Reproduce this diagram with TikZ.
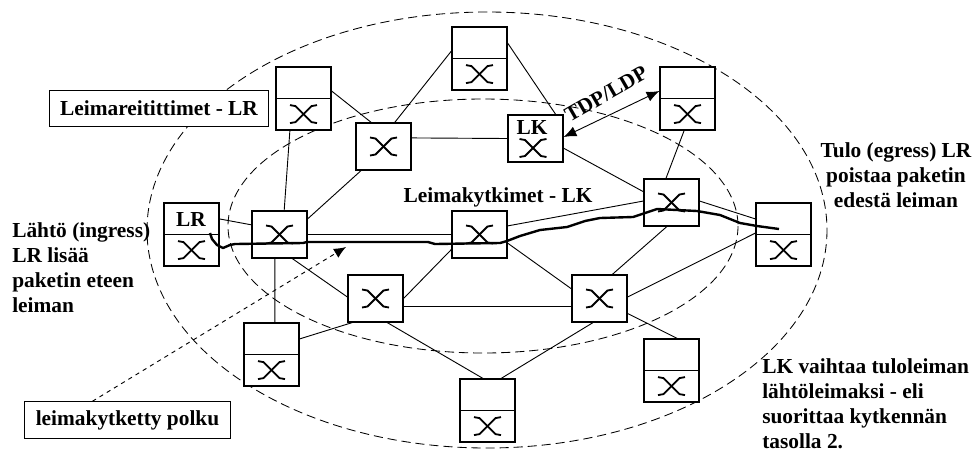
\documentclass[tikz,border=0pt]{standalone}
\usepackage{fontspec}
\setmainfont{Liberation Serif}
\usetikzlibrary{arrows.meta,positioning,calc}
\tikzset{
  swx/.pic={
    \draw[line width=1.3pt] (-13.5,-9) -- (-8,-8) -- (8,8) -- (13.5,9);
    \draw[line width=1.3pt] (-13.5,9) -- (-8,8) -- (8,-8) -- (13.5,-9);
  },
  boxline/.style={draw,fill=white,line width=0.8pt,inner sep=0pt},
  routerbox/.style={boxline,minimum width=1.375cm,minimum height=1.575cm,
    path picture={
      \draw[line width=1pt] (path picture bounding box.west) -- (path picture bounding box.east);
      \draw ([yshift=-0.39cm]path picture bounding box.center) pic {swx};
    }},
  switchbox/.style={boxline,minimum width=1.375cm,minimum height=1.175cm},
  switchmark/.style={path picture={\draw (path picture bounding box.center) pic {swx};}},
  labelbox/.style={draw,fill=white,line width=0.7pt,inner sep=0pt,font=\bfseries\fontsize{15.2}{17.7}\selectfont},
  note/.style={font=\bfseries\fontsize{15.2}{17.7}\selectfont,inner sep=0pt},
  link/.style={line width=0.65pt},
  area/.style={line width=0.6pt,dash pattern=on 6.5pt off 3.5pt}
}
\begin{document}
\begin{tikzpicture}[x=0.025cm,y=-0.025cm]
\useasboundingbox (0,0) rectangle (974,450);

% areas
\draw[area] (487,230) ellipse [x radius=340,y radius=218];
\draw[area] (483,226) ellipse [x radius=255,y radius=127];

% edge routers
\draw (303.5,98.5) node[routerbox] (r1) {};
\draw (479.5,58.5) node[routerbox] (r2) {};
\draw (687.5,98.5) node[routerbox] (r3) {};
\draw (191.5,234.5) node[routerbox] (r4) {};
\draw (783.5,234.5) node[routerbox] (r5) {};
\draw (271.5,354.5) node[routerbox] (r6) {};
\draw (487.5,410.5) node[routerbox] (r7) {};
\draw (671.5,370.5) node[routerbox] (r8) {};

% switches
\draw (383.5,146.5) node[switchbox,switchmark] (s1) {};
\draw (535.5,138.5) node[switchbox] (s2) {};
\draw (279.5,234.5) node[switchbox,switchmark] (s3) {};
\draw (479.5,234.5) node[switchbox,switchmark] (s4) {};
\draw (671.5,202.5) node[switchbox,switchmark] (s5) {};
\draw (375.5,298.5) node[switchbox,switchmark] (s6) {};
\draw (599.5,298.5) node[switchbox,switchmark] (s7) {};

\draw (533,148) pic {swx};
\draw (532,127) node[note] (lk) {LK};
\draw (191,219) node[note] (lr) {LR};

% links
\draw[link] (r1.15) -- (s1.117);
\draw[link] (r2.165) -- (s1.65);
\draw[link] (r2.29) -- (s2.50);
\draw[link] (r1.-113) -- (s3.79);
\draw[link] (s1.227) -- (s3.29);
\draw[link] (s1.17) -- (s2.west);
\draw[link] (s2.-19) -- (s5.159);
\draw[link] (r3.-96) -- (s5.103);
\draw[link] (r4.29) -- (s3.161);
\draw[link] (s3.east) -- (s4.west);
\draw[link] (s4.17) -- (s5.177);
\draw[link] (s5.3) -- (r5.151);
\draw[link] (s3.-101) -- (r6.84);
\draw[link] (s3.-62) -- (s6.177);
\draw[link] (r6.29) -- (s6.-134);
\draw[link] (s4.208) -- (s6.east);
\draw[link] (s4.-17) -- (s7.161);
\draw[link] (s6.-15) -- (s7.195);
\draw[link] (s6.-64) -- (r7.98);
\draw[link] (s7.-105) -- (r7.67);
\draw[link] (s7.62) -- (s5.-101);
\draw[link] (s7.3) -- (r5.177);
\draw[link] (s7.-28) -- (r8.80);
\draw[link,{Latex[length=3.2mm,width=2.6mm]}-{Latex[length=3.2mm,width=2.6mm]}] (s2.3) -- (r3.165);

% switched path
\coordinate (pathstart) at (210,233);
\coordinate (pathend) at (779,229);
\draw[line width=1.7pt,line join=round] (pathstart) -- (212,239) -- (217,245) -- (223,248) -- (230,245)
  -- (235,244) -- (303,243) -- (307,242) -- (428,242) -- (435,244) -- (500,243) -- (507,241)
  -- (520,236) -- (540,230) -- (567,227) -- (585,221) -- (600,218) -- (633,217) -- (645,213)
  -- (657,209) -- (697,211) -- (720,215) -- (740,223) -- (757,226) -- (pathend);

% labels
\draw (159,108.3) node[labelbox,minimum width=5.45cm,minimum height=0.91cm] (routers) {Leimareitittimet - LR};
\draw (127.5,420) node[labelbox,minimum width=5.125cm,minimum height=0.91cm] (pathlabel) {leimakytketty polku};
\coordinate (pathtip) at (346,247);
\draw[link,dashed,-{Latex[length=3mm,width=2.6mm]}] (pathlabel.152) -- (pathtip);

\draw (498,197) node[note] (switches) {Leimakytkimet - LK};
\draw (606,94) node[note,rotate=30] (protocol) {TDP/LDP};
\draw (12,268) node[note,anchor=west,align=left] (ingress) {Lähtö (ingress)\\LR lisää\\paketin eteen\\leiman};
\draw (896,175) node[note,align=center] (egress) {Tulo (egress) LR\\poistaa paketin\\edestä leiman};
\draw (762,403.5) node[note,anchor=west,align=left] (swap) {LK vaihtaa tuloleiman\\lähtöleimaksi - eli\\suorittaa kytkennän\\tasolla 2.};
\end{tikzpicture}
\end{document}
